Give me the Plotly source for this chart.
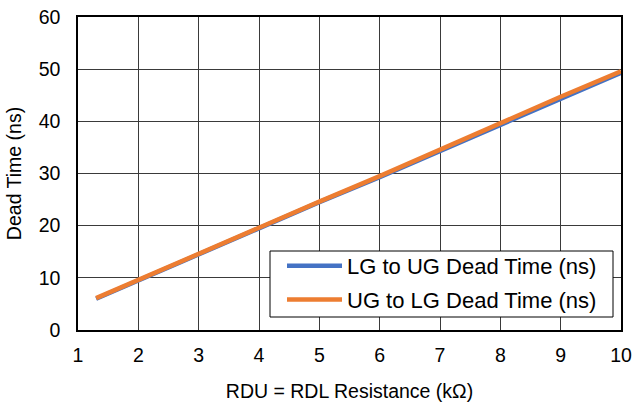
import plotly.graph_objects as go

resistance_kohm = [1.3, 2, 3, 4, 5, 6, 7, 8, 9, 10]
lg_to_ug_ns = [6.0, 9.5, 14.5, 19.6, 24.5, 29.3, 34.3, 39.4, 44.3, 49.3]
ug_to_lg_ns = [6.1, 9.6, 14.6, 19.8, 24.6, 29.5, 34.6, 39.7, 44.7, 49.6]
series_names = ["LG to UG Dead Time (ns)", "UG to LG Dead Time (ns)"]

font = dict(family="Liberation Sans, Arial, sans-serif", size=19.5, color="black")
legend_font = dict(family="Liberation Sans, Arial, sans-serif", size=22, color="black")

W, H = 634, 403
L, R, T, B = 78, 13, 17, 73
pw, ph = W - L - R, H - T - B

def px_x(p):
    return (p - L) / pw

def px_y(p):
    return (H - B - p) / ph

fig = go.Figure()
fig.add_trace(go.Scatter(x=resistance_kohm, y=lg_to_ug_ns, mode="lines", name=series_names[0],
                         legendgroup="a",
                         line=dict(color="#4472C4", width=4.5)))
fig.add_trace(go.Scatter(x=resistance_kohm, y=ug_to_lg_ns, mode="lines", name=series_names[1],
                         legendgroup="b",
                         line=dict(color="#ED7D31", width=4.5)))

# legend frame
fig.add_shape(type="rect", xref="paper", yref="paper",
              x0=px_x(270), x1=px_x(613), y0=px_y(317), y1=px_y(251),
              fillcolor="white", line=dict(color="black", width=1), layer="above")

fig.update_layout(
    width=W, height=H,
    margin=dict(l=L, r=R, t=T, b=B),
    paper_bgcolor="white", plot_bgcolor="white",
    font=font,
    showlegend=True,
    legend=dict(x=px_x(282), y=px_y(245), xanchor="left", yanchor="top",
                borderwidth=0, bgcolor="rgba(0,0,0,0)",
                font=legend_font, itemwidth=55, tracegroupgap=2),
    xaxis=dict(range=[1, 10], dtick=1, tick0=1, showgrid=True, gridcolor="#3a3a3a", gridwidth=1,
               showline=True, linecolor="black", linewidth=1.5, mirror=True, zeroline=False,
               ticks="outside", ticklen=7, tickcolor="rgba(0,0,0,0)", automargin=False,
               ticklabeloverflow="allow",
               title=dict(text="RDU = RDL Resistance (kΩ)", font=font, standoff=19),
               tickfont=font),
    yaxis=dict(range=[0, 60], dtick=10, showgrid=True, gridcolor="#3a3a3a", gridwidth=1,
               showline=True, linecolor="black", linewidth=1.5, mirror=True, zeroline=False,
               ticks="outside", ticklen=12, tickcolor="rgba(0,0,0,0)", automargin=False,
               ticklabeloverflow="allow",
               title=dict(text="Dead Time (ns)", font=font, standoff=12),
               tickfont=font),
)

fig.write_html("out.html", config={"displayModeBar": False},
               post_script="document.body.style.margin='0';document.body.style.overflow='hidden';")
